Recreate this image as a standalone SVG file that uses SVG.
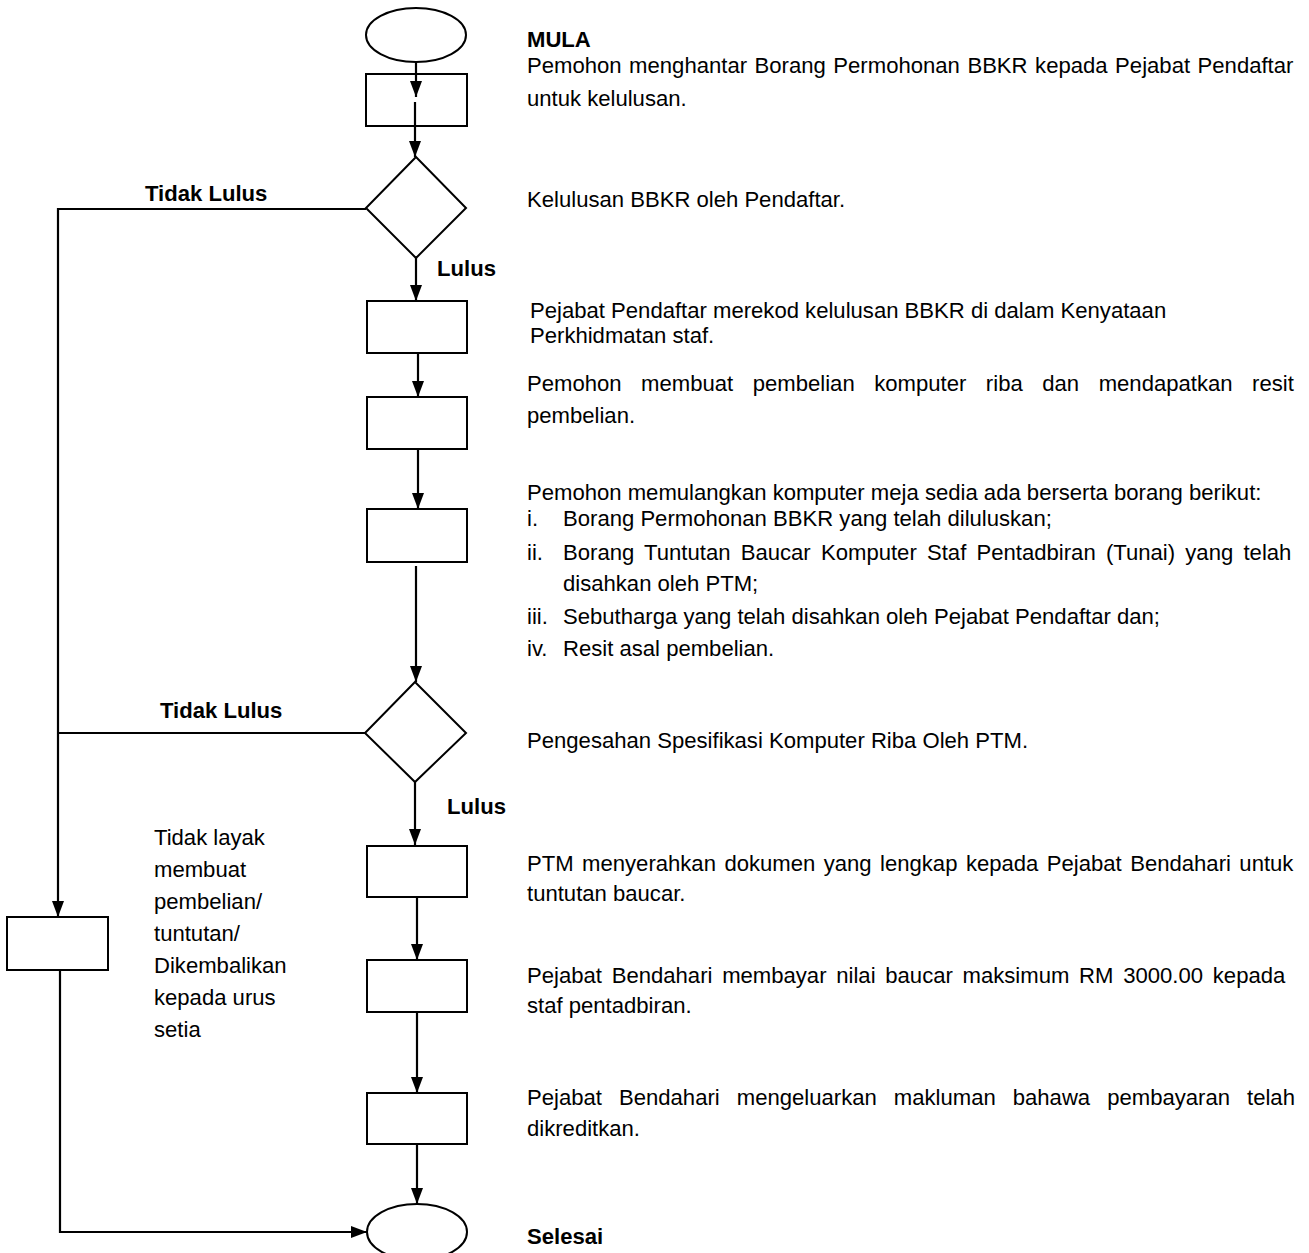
<svg xmlns="http://www.w3.org/2000/svg" width="1309" height="1253" viewBox="0 0 1309 1253">
<style>
.shape{fill:#fff;stroke:#000;stroke-width:2}
.conn{fill:none;stroke:#000;stroke-width:2.2}
.t{font-family:"Liberation Sans",Arial,sans-serif;font-size:22.1px;fill:#000}
.b{font-weight:bold}
</style>
<defs>
<marker id="ah" viewBox="0 0 16 12" refX="16" refY="6" markerWidth="16" markerHeight="12" markerUnits="userSpaceOnUse" orient="auto">
<path d="M0,0 L16,6 L0,12 z" fill="#000"/>
</marker>
</defs>
<rect width="1309" height="1253" fill="#fff"/>
<g id="start"><ellipse class="shape" cx="416" cy="35" rx="50" ry="27"/></g>
<g id="step1"><rect class="shape" x="366" y="74" width="101" height="52"/></g>
<g id="decision1"><polygon class="shape" points="416,157 466,208 416,258 366,208"/></g>
<g id="step2"><rect class="shape" x="367" y="301" width="100" height="52"/></g>
<g id="step3"><rect class="shape" x="367" y="397" width="100" height="52"/></g>
<g id="step4"><rect class="shape" x="367" y="509" width="100" height="53"/></g>
<g id="decision2"><polygon class="shape" points="415,682 466,733 415,782 365,733"/></g>
<g id="step5"><rect class="shape" x="367" y="846" width="100" height="51"/></g>
<g id="step6"><rect class="shape" x="367" y="960" width="100" height="52"/></g>
<g id="step7"><rect class="shape" x="367" y="1093" width="100" height="51"/></g>
<g id="reject"><rect class="shape" x="7" y="917" width="101" height="53"/></g>
<g id="end"><ellipse class="shape" cx="417" cy="1232" rx="50" ry="28"/></g>
<g id="connectors">
<line class="conn" x1="416" y1="62" x2="416" y2="97" marker-end="url(#ah)"/>
<line class="conn" x1="415" y1="102" x2="415" y2="157" marker-end="url(#ah)"/>
<line class="conn" x1="416" y1="258" x2="416" y2="301" marker-end="url(#ah)"/>
<line class="conn" x1="418" y1="353" x2="418" y2="397" marker-end="url(#ah)"/>
<line class="conn" x1="418" y1="449" x2="418" y2="509" marker-end="url(#ah)"/>
<line class="conn" x1="416" y1="566" x2="416" y2="682" marker-end="url(#ah)"/>
<line class="conn" x1="415" y1="782" x2="415" y2="845" marker-end="url(#ah)"/>
<line class="conn" x1="417" y1="897" x2="417" y2="960" marker-end="url(#ah)"/>
<line class="conn" x1="417" y1="1012" x2="417" y2="1093" marker-end="url(#ah)"/>
<line class="conn" x1="417" y1="1144" x2="417" y2="1204" marker-end="url(#ah)"/>
<polyline class="conn" points="366,209 58,209 58,917" marker-end="url(#ah)"/>
<line class="conn" x1="365" y1="733" x2="58" y2="733"/>
<polyline class="conn" points="60,970 60,1232 367,1232" marker-end="url(#ah)"/>
</g>
<g id="labels">
<text class="t b" x="145" y="201">Tidak Lulus</text>
<text class="t b" x="437" y="276">Lulus</text>
<text class="t b" x="160" y="718">Tidak Lulus</text>
<text class="t b" x="447" y="814">Lulus</text>
<text class="t" x="154" y="845">Tidak layak</text>
<text class="t" x="154" y="877">membuat</text>
<text class="t" x="154" y="909">pembelian/</text>
<text class="t" x="154" y="941">tuntutan/</text>
<text class="t" x="154" y="973">Dikembalikan</text>
<text class="t" x="154" y="1005">kepada urus</text>
<text class="t" x="154" y="1037">setia</text>
<text class="t b" x="527" y="47">MULA</text>
<text class="t" x="527" y="73" style="word-spacing:1.4px">Pemohon menghantar Borang Permohonan BBKR kepada Pejabat Pendaftar</text>
<text class="t" x="527" y="106">untuk kelulusan.</text>
<text class="t" x="527" y="207">Kelulusan BBKR oleh Pendaftar.</text>
<text class="t" x="530" y="318">Pejabat Pendaftar merekod kelulusan BBKR di dalam Kenyataan</text>
<text class="t" x="530" y="343">Perkhidmatan staf.</text>
<text class="t" x="527" y="391" style="word-spacing:13.4px">Pemohon membuat pembelian komputer riba dan mendapatkan resit</text>
<text class="t" x="527" y="423">pembelian.</text>
<text class="t" x="527" y="500">Pemohon memulangkan komputer meja sedia ada berserta borang berikut:</text>
<text class="t" x="527" y="526">i.</text>
<text class="t" x="563" y="526">Borang Permohonan BBKR yang telah diluluskan;</text>
<text class="t" x="527" y="560">ii.</text>
<text class="t" x="563" y="560" style="word-spacing:4.1px">Borang Tuntutan Baucar Komputer Staf Pentadbiran (Tunai) yang telah</text>
<text class="t" x="563" y="591">disahkan oleh PTM;</text>
<text class="t" x="527" y="624">iii.</text>
<text class="t" x="563" y="624">Sebutharga yang telah disahkan oleh Pejabat Pendaftar dan;</text>
<text class="t" x="527" y="656">iv.</text>
<text class="t" x="563" y="656">Resit asal pembelian.</text>
<text class="t" x="527" y="748">Pengesahan Spesifikasi Komputer Riba Oleh PTM.</text>
<text class="t" x="527" y="871" style="word-spacing:2.3px">PTM menyerahkan dokumen yang lengkap kepada Pejabat Bendahari untuk</text>
<text class="t" x="527" y="901">tuntutan baucar.</text>
<text class="t" x="527" y="983" style="word-spacing:3.6px">Pejabat Bendahari membayar nilai baucar maksimum RM 3000.00 kepada</text>
<text class="t" x="527" y="1013">staf pentadbiran.</text>
<text class="t" x="527" y="1105" style="word-spacing:10.9px">Pejabat Bendahari mengeluarkan makluman bahawa pembayaran telah</text>
<text class="t" x="527" y="1136">dikreditkan.</text>
<text class="t b" x="527" y="1244">Selesai</text>
</g>
</svg>
